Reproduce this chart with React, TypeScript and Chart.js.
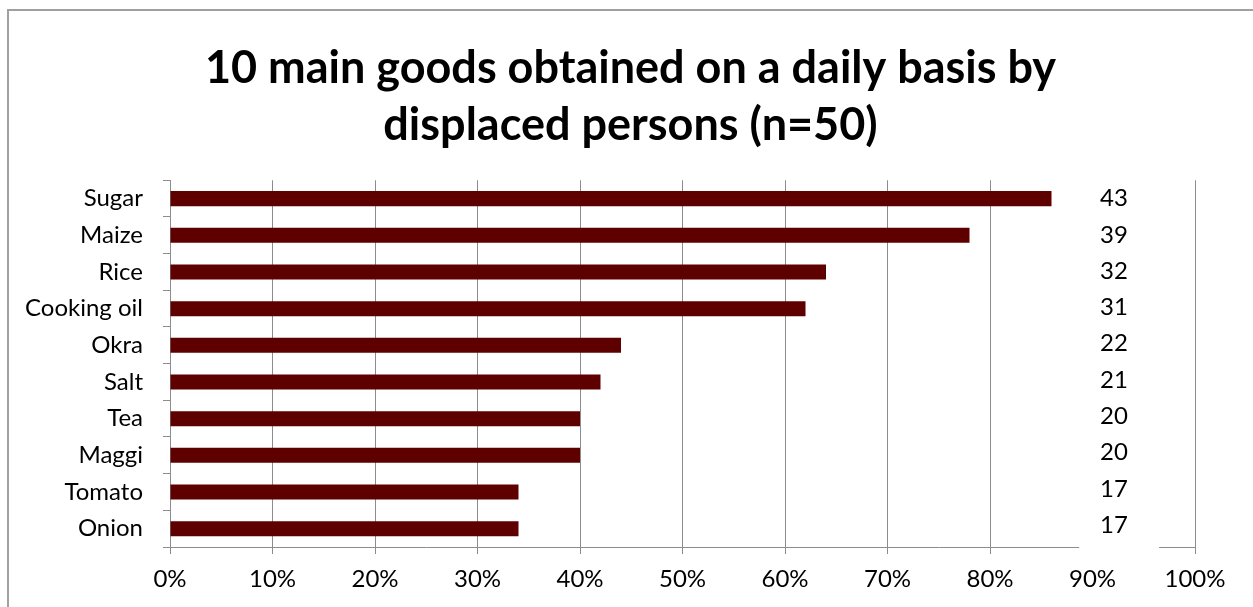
import React, { useEffect, useRef } from "react";
import { Chart, registerables } from "chart.js";

Chart.register(...registerables);

const titleLines = ["10 main goods obtained on a daily basis by", "displaced persons (n=50)"];
const categories = ["Sugar", "Maize", "Rice", "Cooking oil", "Okra", "Salt", "Tea", "Maggi", "Tomato", "Onion"];
const percentages = [86, 78, 64, 62, 44, 42, 40, 40, 34, 34];
const counts = [43, 39, 32, 31, 22, 21, 20, 20, 17, 17];
const xTicks = [0, 10, 20, 30, 40, 50, 60, 70, 80, 90, 100];

const FONT = "Lato, 'Open Sans', sans-serif";

const framePlugin = {
  id: "frame",
  beforeDraw(chart: any) {
    const ctx = chart.ctx;
    ctx.save();
    ctx.fillStyle = "#ffffff";
    ctx.fillRect(0, 0, chart.width, chart.height);
    ctx.strokeStyle = "#a0a0a0";
    ctx.lineWidth = 2;
    ctx.strokeRect(8, 10, chart.width + 20, chart.height + 20);
    ctx.restore();
  },
};

const countsPlugin = {
  id: "counts",
  afterDraw(chart: any) {
    const ctx = chart.ctx;
    const x = chart.scales.x;
    const y = chart.scales.y;
    const area = chart.chartArea;
    ctx.save();
    const left = x.getPixelForValue(88.7);
    const right = x.getPixelForValue(96.5);
    ctx.fillStyle = "#ffffff";
    ctx.fillRect(left, area.top - 2, right - left, area.bottom - area.top + 9);
    ctx.fillStyle = "#000000";
    ctx.font = `24px ${FONT}`;
    ctx.textAlign = "center";
    ctx.textBaseline = "middle";
    const cx = x.getPixelForValue(92.1);
    counts.forEach((c, i) => {
      ctx.fillText(String(c), cx, y.getPixelForValue(i) - i * 0.4);
    });
    ctx.restore();
  },
};

export default function App() {
  const canvasRef = useRef<HTMLCanvasElement | null>(null);

  useEffect(() => {
    document.body.style.margin = "0";
    const canvas = canvasRef.current;
    if (!canvas) return;
    const chart = new Chart(canvas, {
      type: "bar",
      data: {
        labels: categories,
        datasets: [
          {
            data: percentages,
            backgroundColor: "#5e0000",
            borderWidth: 0,
            barPercentage: 0.41,
            categoryPercentage: 1,
          },
        ],
      },
      options: {
        indexAxis: "y",
        animation: false,
        responsive: false,
        maintainAspectRatio: false,
        devicePixelRatio: 1,
        layout: { padding: { left: 8, right: 0, top: 0, bottom: 0 } },
        plugins: {
          legend: { display: false },
          tooltip: { enabled: false },
          title: {
            display: true,
            text: titleLines,
            color: "#000000",
            font: { family: FONT, size: 45, weight: "bold", lineHeight: 1.27 },
            padding: { top: 40, bottom: 26 },
          },
        },
        scales: {
          x: {
            min: 0,
            max: 100,
            afterBuildTicks: (scale: any) => {
              scale.ticks = xTicks.map((v) => ({ value: v }));
            },
            afterFit: (scale: any) => {
              scale.height = 60;
            },
            ticks: {
              color: "#000000",
              font: { family: FONT, size: 24 },
              padding: 11,
              maxRotation: 0,
              callback: (v: any) => `${v}%`,
            },
            grid: {
              color: "#8c8c8c",
              lineWidth: 1,
              drawTicks: true,
              tickLength: 7,
            },
            border: { color: "#8c8c8c", width: 1 },
          },
          y: {
            afterFit: (scale: any) => {
              scale.width = 162;
            },
            ticks: {
              color: "#000000",
              font: { family: FONT, size: 24 },
              padding: 20,
            },
            grid: {
              offset: true,
              drawOnChartArea: false,
              drawTicks: true,
              tickLength: 7,
              color: "#8c8c8c",
            },
            border: { color: "#8c8c8c", width: 1 },
          },
          yRight: {
            type: "category",
            position: "right",
            display: true,
            afterFit: (scale: any) => {
              scale.width = 58;
            },
            ticks: { display: false },
            grid: { display: false, drawTicks: false },
            border: { display: false },
          },
        },
      },
      plugins: [framePlugin, countsPlugin],
    } as any);
    return () => chart.destroy();
  }, []);

  return (
    <div style={{ position: "absolute", left: 0, top: 0, width: 1253, height: 607 }}>
      <canvas ref={canvasRef} width={1253} height={607} style={{ width: 1253, height: 607, display: "block" }} />
    </div>
  );
}
